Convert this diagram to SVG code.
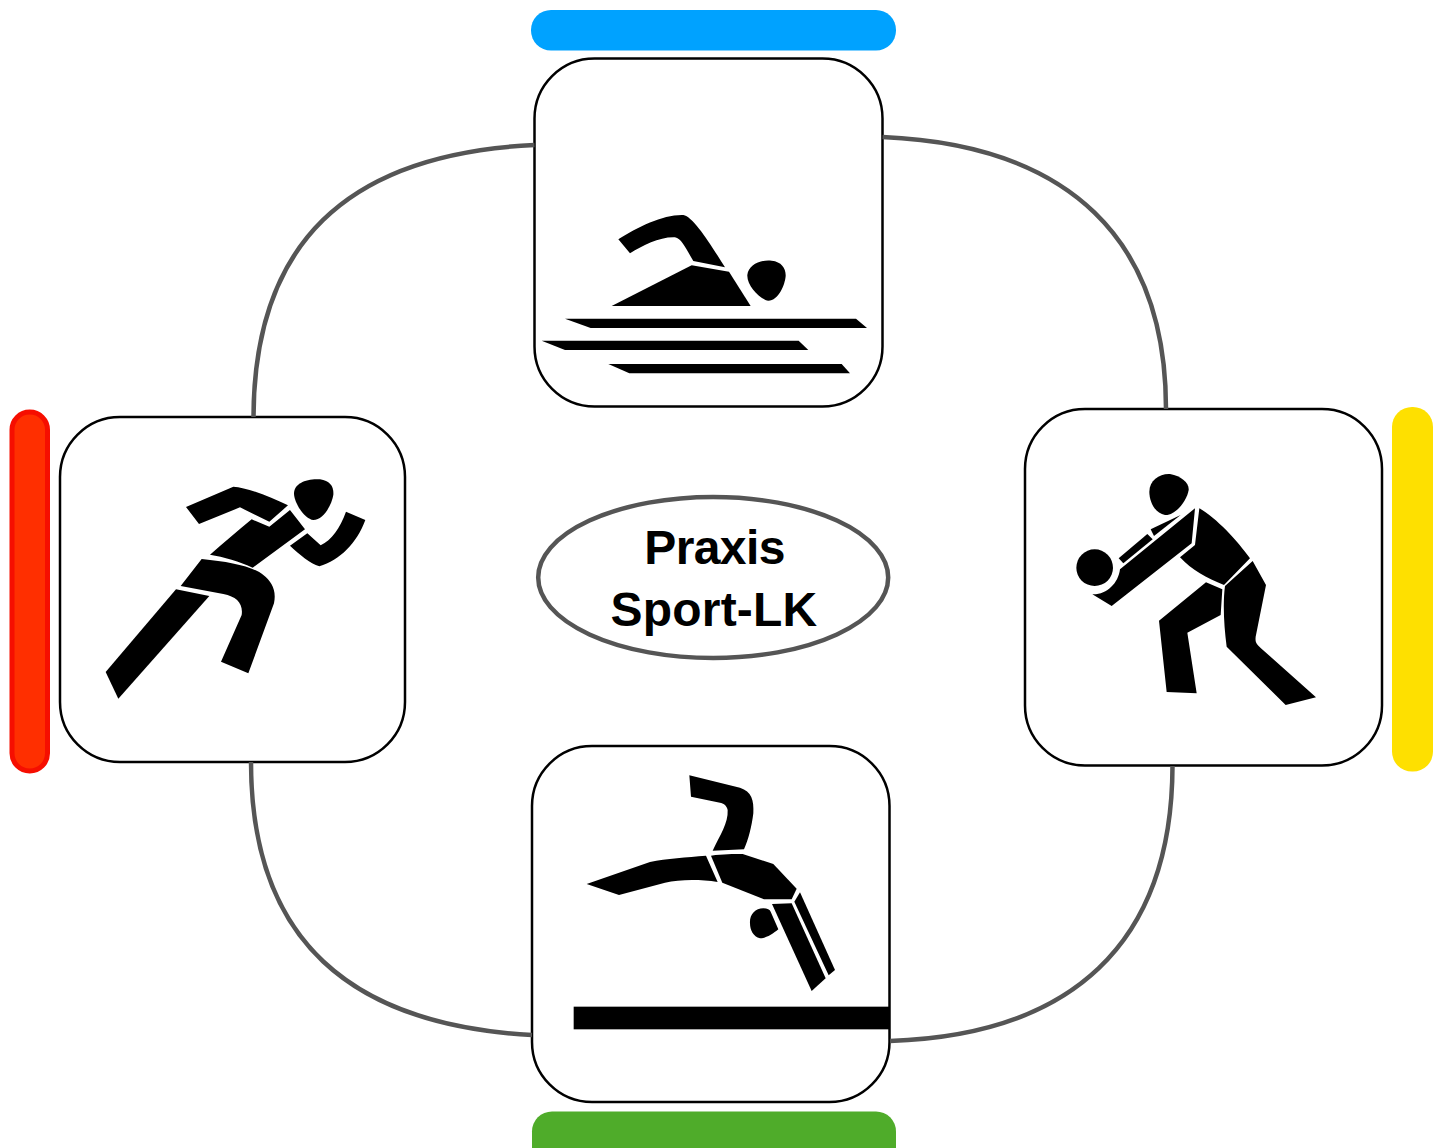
<svg xmlns="http://www.w3.org/2000/svg" width="1442" height="1148" viewBox="0 0 1442 1148">
<style>
.card{fill:#fff;stroke:#000;stroke-width:2.5}
.link{fill:none;stroke:#555;stroke-width:4.500}
.pic{fill:#000}
text{font-family:"Liberation Sans",Arial,sans-serif;font-weight:700;font-size:48px;text-anchor:middle;fill:#000}
</style>
<g id="bar-blue"><rect x="531" y="10" width="365" height="40.500" rx="20" fill="#00a2ff"/></g>
<g id="bar-red"><rect x="12" y="412" width="35.500" height="359" rx="17.700" fill="#ff2f00" stroke="#f60e00" stroke-width="5"/></g>
<g id="bar-yellow"><rect x="1392" y="407" width="41" height="364.500" rx="20" fill="#fee000"/></g>
<g id="bar-green"><rect x="532" y="1111.500" width="364" height="60" rx="20" fill="#4fac2a"/></g>
<g id="node-swim">
<rect class="card" x="534.500" y="58.500" width="348" height="348" rx="60"/>
<g class="pic" transform="translate(530,190) scale(.33333)">
<path d="M265,148C325,110 400,73 460,75C490,80 540,160 585,232L490,213C470,180 455,145 435,142C390,140 340,165 300,190Z"/>
<path d="M245,348L485,226L597,245L662,348Z"/>
<path d="M652,255C655,225 690,208 725,212C755,215 768,235 767,258C765,285 745,332 715,332C695,330 650,290 652,255Z"/>
<path d="M105,386L978,386L1011,414L182,414Z"/>
<path d="M35,452L806,452L835,480L105,480Z"/>
<path d="M235,522L935,522L960,550L298,550Z"/>
</g>
</g>
<g id="node-run">
<rect class="card" x="60" y="417" width="345" height="345" rx="60"/>
<g class="pic" transform="translate(90,460) scale(.33333)">
<path d="M612,100C612,70 650,55 690,58C720,62 732,80 730,105C725,135 700,180 670,180C645,178 612,130 612,100Z"/>
<path d="M288,141L430,80C470,82 540,110 594,136L538,185L450,142L327,192Z"/>
<path d="M360,284C400,250 445,210 485,178L538,200L600,150L645,208L488,323C450,305 400,290 360,284Z"/>
<path d="M600,257L652,220L692,256C725,240 750,205 768,155L826,180C800,250 750,300 688,319C660,310 630,285 600,257Z"/>
<path d="M335,297C420,305 490,320 520,345C545,365 560,390 552,430L475,640L393,605L455,465C460,430 440,410 400,402L272,378Z"/>
<path d="M258,388L358,408L85,716L47,636Z"/>
</g>
</g>
<g id="node-volley">
<rect class="card" x="1025" y="409" width="357" height="356.500" rx="60"/>
<g class="pic" transform="translate(1060,460) scale(.33333)">
<path d="M268,95C268,60 300,40 330,42C365,48 388,70 386,90C380,125 345,167 315,165C285,160 268,125 268,95Z"/>
<circle cx="104" cy="323" r="55"/>
<path d="M272,208L362,165L282,228Z"/>
<path d="M176,295L262,222L278,238L190,310Z"/>
<path d="M405,145L395,250L155,438L97,403C140,405 175,370 180,328Z"/>
<path d="M418,145C470,175 530,240 570,295L492,375C440,355 395,330 360,292L405,255Z"/>
<path d="M438,367L487,388L482,465L382,518L410,700L320,696L297,482Z"/>
<path d="M578,303L618,375L587,530C585,548 590,552 602,564L768,712L677,735L500,560C492,500 488,430 495,378Z"/>
</g>
</g>
<g id="node-gym">
<rect class="card" x="532" y="746" width="357.500" height="356" rx="60"/>
<g class="pic" transform="translate(560,760) scale(.33333)">
<path d="M388,46L540,83C575,95 582,120 580,160C575,200 565,240 552,268L458,272C480,225 505,190 503,150C500,135 490,130 480,128L393,110Z"/>
<path d="M80,372L270,306C320,295 380,292 438,287L473,366C420,358 360,358 315,368L177,405Z"/>
<path d="M453,287C490,282 520,282 548,282L640,312L710,386L695,418L612,418L487,368Z"/>
<path d="M636,432L695,430L797,655L755,693Z"/>
<path d="M720,397L825,630L806,646L703,425Z"/>
<path d="M570,490C568,465 585,445 610,445C622,445 630,450 632,455L655,508C640,520 620,535 600,535C580,530 570,510 570,490Z"/>
<rect x="41" y="740" width="949" height="68"/>
</g>
</g>
<g id="node-center">
<ellipse cx="713.200" cy="577.500" rx="175" ry="80.500" fill="#fff" stroke="#555" stroke-width="4.500"/>
<text x="714.500" y="564" letter-spacing="-.6">Praxis</text>
<text x="714" y="626" letter-spacing=".2">Sport-LK</text>
</g>
<g id="connectors">
<path class="link" d="M534.500,145C345,154 254,245 253.500,417"/>
<path class="link" d="M882.500,137C1070,145 1166,240 1166,409"/>
<path class="link" d="M1172.500,766C1172,945 1070,1035 890,1041"/>
<path class="link" d="M251,762C251,940 350,1025 532,1035"/>
</g>
</svg>
